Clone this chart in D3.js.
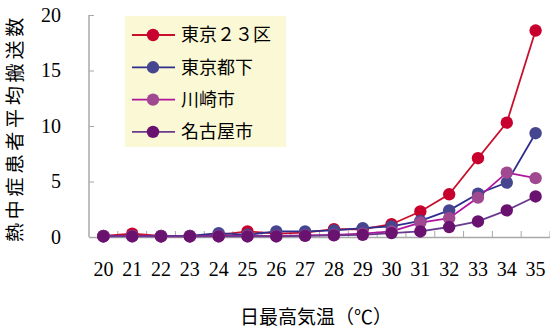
<!DOCTYPE html>
<html>
<head>
<meta charset="utf-8">
<script src="https://cdn.jsdelivr.net/npm/d3@7"></script>
<style>
  body { margin: 0; background: #fff; }
  svg { display: block; }
</style>
</head>
<body>
<div class="chart"></div>
<script>
const temps = ['20','21','22','23','24','25','26','27','28','29','30','31','32','33','34','35'];
const tokyo23 = [0.1,0.3,0.1,0.1,0.2,0.5,0.3,0.4,0.7,0.7,1.15,2.3,3.85,7.1,10.3,18.6];
const tokyoTama = [0.1,0.1,0.1,0.1,0.35,0.2,0.5,0.5,0.6,0.8,0.95,1.45,2.4,3.9,4.9,9.35];
const kawasaki = [0.05,0.1,0.05,0.05,0.1,0.1,0.1,0.15,0.2,0.3,0.5,1.3,1.7,3.55,5.8,5.3];
const nagoya = [0.05,0.05,0.05,0.05,0.05,0.05,0.05,0.1,0.15,0.2,0.35,0.5,0.9,1.4,2.4,3.65];
const seriesNames = ['東京２３区','東京都下','川崎市','名古屋市'];
const lineColors = ['#c8102e','#2e2e8e','#b0149c','#6a3a8e'];
const dotColors = ['#c8002d','#45468f','#a04890','#6a1270'];
const yTicks = [0,5,10,15,20];

const series = [tokyo23, tokyoTama, kawasaki, nagoya];

const svg = d3.select('.chart').append('svg')
    .attr('width', 550).attr('height', 336);

const x = d3.scaleBand().domain(temps).range([89, 550]);
const y = d3.scaleLinear().domain([0, 20]).range([237, 15]);

// axes
const xAxis = svg.append('g').attr('transform', 'translate(0,237)')
    .call(d3.axisBottom(x).tickSize(0).tickPadding(25));
xAxis.select('.domain').attr('stroke', '#a8a8a8').attr('stroke-width', 1.5);
xAxis.selectAll('text').attr('font-family', '"Liberation Serif", serif')
    .attr('font-size', 20).attr('fill', '#000');

// tick marks between categories, pointing up
svg.append('g').selectAll('line')
    .data(temps)
    .join('line')
    .attr('x1', d => x(d) + x.bandwidth())
    .attr('x2', d => x(d) + x.bandwidth())
    .attr('y1', 237).attr('y2', 231)
    .attr('stroke', '#a8a8a8').attr('stroke-width', 1);

const yAxis = svg.append('g').attr('transform', 'translate(89,0)')
    .call(d3.axisLeft(y).tickValues(yTicks).tickSize(-5).tickPadding(28));
yAxis.select('.domain').remove();
yAxis.append('line').attr('y1', 15).attr('y2', 237).attr('stroke', '#a8a8a8').attr('stroke-width', 1.5);
yAxis.selectAll('.tick line').attr('stroke', '#a8a8a8');
yAxis.selectAll('text').attr('font-family', '"Liberation Serif", serif')
    .attr('font-size', 20).attr('fill', '#000');

// lines and dots
const line = d3.line()
    .x((d, i) => x(temps[i]) + x.bandwidth() / 2)
    .y(d => y(d));

series.forEach((s, k) => {
  svg.append('path').datum(s)
      .attr('d', line)
      .attr('fill', 'none')
      .attr('stroke', lineColors[k])
      .attr('stroke-width', 1.8);
});
series.forEach((s, k) => {
  svg.append('g').selectAll('circle')
      .data(s).join('circle')
      .attr('cx', (d, i) => x(temps[i]) + x.bandwidth() / 2)
      .attr('cy', d => y(d))
      .attr('r', 6.2)
      .attr('fill', dotColors[k]);
});

// legend
const legend = svg.append('g');
legend.append('rect')
    .attr('x', 125).attr('y', 16).attr('width', 161).attr('height', 131)
    .attr('fill', '#fbf9d5');
seriesNames.forEach((name, k) => {
  const ly = 35 + k * 32.3;
  legend.append('line').attr('x1', 132).attr('x2', 175).attr('y1', ly).attr('y2', ly)
      .attr('stroke', lineColors[k]).attr('stroke-width', 1.8);
  legend.append('circle').attr('cx', 153).attr('cy', ly).attr('r', 6.2)
      .attr('fill', dotColors[k]);
  legend.append('text').attr('x', 181).attr('y', ly).attr('dy', '0.36em')
      .attr('font-family', '"Noto Sans CJK JP", sans-serif')
      .attr('font-size', 18).attr('fill', '#000')
      .text(name);
});

// axis titles
svg.append('text')
    .attr('transform', 'translate(15.5,128) rotate(-90)')
    .attr('dy', '0.36em')
    .attr('text-anchor', 'middle')
    .attr('font-family', '"Noto Sans CJK JP", sans-serif')
    .attr('font-size', 19)
    .attr('letter-spacing', 3.8)
    .attr('fill', '#000')
    .text('熱中症患者平均搬送数');

svg.append('text')
    .attr('x', 316).attr('y', 317).attr('dy', '0.36em')
    .attr('text-anchor', 'middle')
    .attr('font-family', '"Noto Sans CJK JP", sans-serif')
    .attr('font-size', 19).attr('fill', '#000')
    .text('日最高気温（℃）');
</script>
</body>
</html>
